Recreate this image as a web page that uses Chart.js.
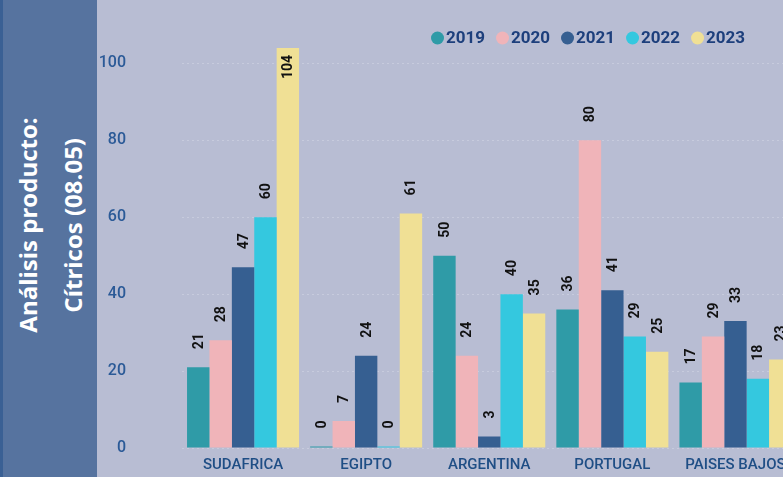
<!DOCTYPE html>
<html>
<head>
<meta charset="utf-8">
<script src="https://cdn.jsdelivr.net/npm/chart.js@4.4.1/dist/chart.umd.min.js"></script>
<style>
  html, body { margin: 0; padding: 0; }
  body { width: 783px; height: 477px; overflow: hidden; background: #b8bdd3; position: relative; }
  #side { position: absolute; left: 0; top: 0; width: 97px; height: 477px; background: #56739f; border-left: 3px solid #3a6094; box-sizing: border-box; }
  #side span { position: absolute; left: 50%; top: 225px; transform: translate(-50%, -50%) rotate(180deg);
    writing-mode: vertical-rl; white-space: nowrap; text-align: center; color: #fff;
    font: 700 24px/45px "Open Sans", sans-serif; }
  #graph { position: absolute; left: 97px; top: 0; }
</style>
</head>
<body>
<div id="side"><span>Análisis producto:<br>Cítricos (08.05)</span></div>
<canvas id="graph" width="703" height="477"></canvas>
<script>
// paises y años
const paises = ['SUDAFRICA', 'EGIPTO', 'ARGENTINA', 'PORTUGAL', 'PAISES BAJOS'];
const anios = ['2019', '2020', '2021', '2022', '2023'];
const colores = ['#2f9ba7', '#f0b4b9', '#365f91', '#34c8df', '#f0e095'];

const v2019 = [21, 0, 50, 36, 17];
const v2020 = [28, 7, 24, 80, 29];
const v2021 = [47, 24, 3, 41, 33];
const v2022 = [60, 0, 40, 29, 18];
const v2023 = [104, 61, 35, 25, 23];

const yTicks = [0, 20, 40, 60, 80, 100];

const series = [v2019, v2020, v2021, v2022, v2023];

// etiquetas giradas encima de cada barra
const etiquetas = {
    id: 'etiquetas',
    afterDatasetsDraw(chart) {
        const ctx = chart.ctx;
        ctx.save();
        ctx.font = 'bold 14px Roboto';
        ctx.fillStyle = '#111';
        ctx.textBaseline = 'middle';
        chart.data.datasets.forEach((ds, i) => {
            chart.getDatasetMeta(i).data.forEach((bar, j) => {
                const txt = String(ds.data[j]);
                const w = ctx.measureText(txt).width;
                ctx.save();
                if (bar.y - 18 - w < chart.chartArea.top) {
                    ctx.translate(bar.x, bar.y + 7);
                    ctx.rotate(-Math.PI / 2);
                    ctx.textAlign = 'right';
                } else {
                    ctx.translate(bar.x, bar.y - 18);
                    ctx.rotate(-Math.PI / 2);
                    ctx.textAlign = 'left';
                }
                ctx.fillText(txt, 0, 1);
                ctx.restore();
            });
        });
        ctx.restore();
    }
};

// leyenda arriba a la derecha
const leyenda = {
    id: 'leyenda',
    afterDraw(chart) {
        const ctx = chart.ctx;
        ctx.save();
        ctx.font = 'bold 17px Roboto';
        ctx.textBaseline = 'middle';
        ctx.textAlign = 'left';
        let x = 334;
        chart.data.datasets.forEach(ds => {
            ctx.fillStyle = ds.backgroundColor;
            ctx.beginPath();
            ctx.arc(x + 6.5, 38, 6.5, 0, Math.PI * 2);
            ctx.fill();
            ctx.fillStyle = '#1d3f7c';
            ctx.fillText(ds.label, x + 15, 39);
            x += 15 + ctx.measureText(ds.label).width + 11;
        });
        ctx.restore();
    }
};

Chart.defaults.font.family = 'Roboto';

new Chart(document.getElementById('graph'), {
    type: 'bar',
    data: {
        labels: paises,
        datasets: anios.map((a, i) => ({
            label: a,
            data: series[i],
            backgroundColor: colores[i],
            minBarLength: 1.5,
            barPercentage: 1,
            categoryPercentage: 0.91
        }))
    },
    options: {
        responsive: false,
        animation: false,
        layout: { padding: { top: 48, right: 3, left: 0, bottom: 0 } },
        plugins: {
            legend: { display: false },
            tooltip: { enabled: false }
        },
        scales: {
            x: {
                grid: { display: false },
                border: { display: false },
                ticks: { color: '#1f4e85', font: { size: 15, weight: 500 }, padding: 0 },
                afterFit: s => { s.height = 29; }
            },
            y: {
                min: 0,
                max: 104,
                grid: { color: 'rgba(225,228,240,0.35)', drawTicks: true, tickLength: 53, tickColor: 'rgba(0,0,0,0)' },
                border: { display: false, dash: [2, 3] },
                ticks: {
                    stepSize: 20,
                    includeBounds: false,
                    color: '#2b5a97',
                    font: { size: 16, weight: 500 },
                    padding: 2.5,
                    callback: v => yTicks.includes(v) ? v : ''
                },
                afterFit: s => { s.width = 84.5; }
            }
        }
    },
    plugins: [etiquetas, leyenda]
});
</script>
</body>
</html>
